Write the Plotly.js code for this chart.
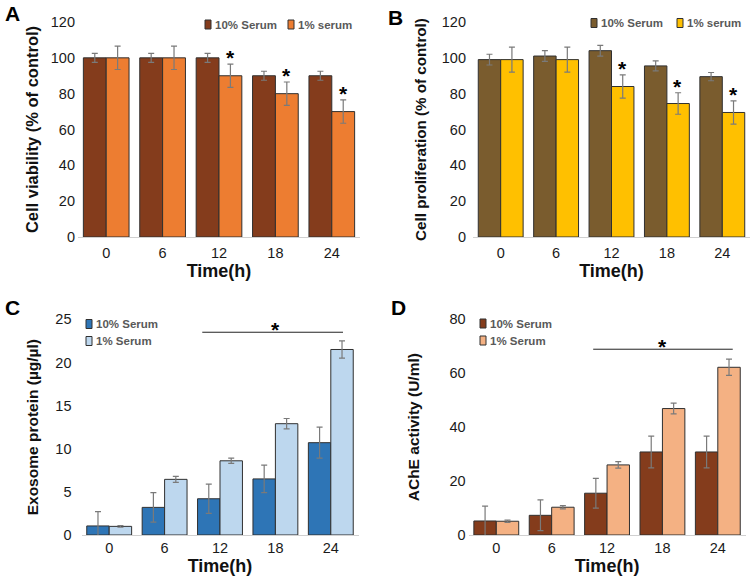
<!DOCTYPE html>
<html><head><meta charset="utf-8">
<script src="https://cdn.plot.ly/plotly-3.0.1.min.js"></script>
<style>html,body{margin:0;padding:0;background:#fff}#chart{width:750px;height:578px}</style>
</head><body><div id="chart"></div>
<script>
// ---------- data ----------
const timeLabels = ['0', '6', '12', '18', '24'];

const namesAB = ['10% Serum', '1% serum'];
const namesCD = ['10% Serum', '1% Serum'];

const viability10 = [100, 100, 100, 90, 90];
const viability10Err = [2.5, 2.5, 2.5, 2.5, 2.5];
const viability1 = [100, 100, 90, 80, 70];
const viability1Err = [6.5, 6.5, 6.5, 6.5, 6.5];
const viabilitySig = [false, false, true, true, true];

const prolif10 = [99, 101, 104, 95.5, 89.5];
const prolif10Err = [3, 3, 3, 2.8, 2.3];
const prolif1 = [99, 99, 84, 74.5, 69.5];
const prolif1Err = [7, 7, 6.5, 6, 6.5];
const prolifSig = [false, false, true, true, true];

const exosome10 = [1.05, 3.2, 4.2, 6.5, 10.7];
const exosome10Err = [1.65, 1.7, 1.7, 1.6, 1.8];
const exosome1 = [1.0, 6.45, 8.6, 12.9, 21.5];
const exosome1Err = [0.1, 0.35, 0.3, 0.6, 1.0];

const ache10 = [5.2, 7.3, 15.5, 30.8, 30.8];
const ache10Err = [5.5, 5.7, 5.5, 5.9, 5.9];
const ache1 = [5.1, 10.3, 26, 46.9, 62.2];
const ache1Err = [0.4, 0.6, 1.2, 2, 3];

// ---------- styles ----------
const W = 750, H = 578;
const px = v => v / W;
const py = v => 1 - v / H;
const FONT = 'Liberation Sans, Arial, sans-serif';
const colA = ['#843C1C', '#ED7D31'];
const colB = ['#7A5C2E', '#FFC000'];
const colC = ['#2E75B6', '#BDD7EE'];
const colD = ['#843C1C', '#F4B183'];

function bar(x, y, err, name, color, xa, ya) {
  return {
    type: 'bar', x: x, y: y, name: name, xaxis: xa, yaxis: ya, showlegend: false,
    marker: {color: color, line: {color: '#303030', width: 1}},
    error_y: {type: 'data', array: err, visible: true, color: '#7a7a7a', thickness: 1.2, width: 3},
    hoverinfo: 'x+y+name'
  };
}

const data = [
  bar(timeLabels, viability10, viability10Err, namesAB[0], colA[0], 'x', 'y'),
  bar(timeLabels, viability1, viability1Err, namesAB[1], colA[1], 'x', 'y'),
  bar(timeLabels, prolif10, prolif10Err, namesAB[0], colB[0], 'x2', 'y2'),
  bar(timeLabels, prolif1, prolif1Err, namesAB[1], colB[1], 'x2', 'y2'),
  bar(timeLabels, exosome10, exosome10Err, namesCD[0], colC[0], 'x3', 'y3'),
  bar(timeLabels, exosome1, exosome1Err, namesCD[1], colC[1], 'x3', 'y3'),
  bar(timeLabels, ache10, ache10Err, namesCD[0], colD[0], 'x4', 'y4'),
  bar(timeLabels, ache1, ache1Err, namesCD[1], colD[1], 'x4', 'y4')
];

function xAxis(domain, anchor, tso, tstand) {
  return {
    domain: domain, anchor: anchor, type: 'category', categoryorder: 'array', categoryarray: timeLabels,
    showline: true, linecolor: '#d0d0d0', linewidth: 1, showgrid: false, zeroline: false, ticks: '',
    ticklabelstandoff: tso,
    tickfont: {family: FONT, size: 14.5, color: '#1a1a1a'},
    title: {text: 'Time(h)', font: {family: FONT, size: 18, color: '#111', weight: 700}, standoff: tstand}
  };
}
function yAxis(domain, anchor, range, dtick, title, tsize, tso, tstand) {
  return {
    domain: domain, anchor: anchor, range: range, dtick: dtick, tick0: 0,
    showline: false, showgrid: false, zeroline: false, ticks: '',
    ticklabelstandoff: tso,
    tickfont: {family: FONT, size: 14.5, color: '#1a1a1a'},
    title: {text: title, font: {family: FONT, size: tsize, color: '#111', weight: 700}, standoff: tstand}
  };
}

const annotations = [];
const shapes = [];

// panel letters
[['A', 3, 13], ['B', 386, 17], ['C', 3, 307], ['D', 389, 307]].forEach(p => {
  annotations.push({xref: 'paper', yref: 'paper', x: px(p[1]), y: py(p[2]), text: p[0], showarrow: false,
    xanchor: 'left', yanchor: 'middle', font: {family: FONT, size: 21, color: '#000', weight: 700}});
});

// significance stars on individual bars (A, B)
function stars(vals, errs, sig, xa, ya) {
  sig.forEach((s, i) => {
    if (!s) return;
    annotations.push({xref: xa, yref: ya, x: i + 0.2, y: vals[i] + errs[i], text: '*', showarrow: false,
      yanchor: 'bottom', yshift: -7, font: {family: FONT, size: 21, color: '#000', weight: 700}});
  });
}
stars(viability1, viability1Err, viabilitySig, 'x', 'y');
stars(prolif1, prolif1Err, prolifSig, 'x2', 'y2');

// bracket lines with star (C, D)
function bracket(xa, ya, x0, x1, level) {
  shapes.push({type: 'line', xref: xa, yref: ya, x0: x0, x1: x1, y0: level, y1: level,
    line: {color: '#222', width: 1}});
  annotations.push({xref: xa, yref: ya, x: 3, y: level, text: '*', showarrow: false,
    yanchor: 'bottom', yshift: -11, font: {family: FONT, size: 21, color: '#000', weight: 700}});
}
bracket('x3', 'y3', 1.68, 4.22, 23.5);
bracket('x4', 'y4', 1.75, 4.27, 68.9);

// legends (drawn as swatches + labels)
function legendItem(boxLeft, cy, color, label) {
  shapes.push({type: 'rect', xref: 'paper', yref: 'paper', x0: px(boxLeft), x1: px(boxLeft + 6),
    y0: py(cy + 4.5), y1: py(cy - 4.5), fillcolor: color, line: {color: '#303030', width: 1}});
  annotations.push({xref: 'paper', yref: 'paper', x: px(boxLeft + 8), y: py(cy), text: label, showarrow: false,
    xanchor: 'left', yanchor: 'middle', font: {family: FONT, size: 11.5, color: '#595959', weight: 700}});
}
legendItem(205, 24.5, colA[0], namesAB[0]);
legendItem(288, 24.5, colA[1], namesAB[1]);
legendItem(591, 23, colB[0], namesAB[0]);
legendItem(677, 23, colB[1], namesAB[1]);
legendItem(86, 324, colC[0], namesCD[0]);
legendItem(86, 341, colC[1], namesCD[1]);
legendItem(480, 323.5, colD[0], namesCD[0]);
legendItem(480, 340.5, colD[1], namesCD[1]);

const layout = {
  width: W, height: H, margin: {l: 0, r: 0, t: 0, b: 0},
  paper_bgcolor: '#fff', plot_bgcolor: '#fff',
  barmode: 'group', bargap: 0.19, bargroupgap: 0,
  font: {family: FONT, color: '#1a1a1a'},
  showlegend: false,
  xaxis: xAxis([px(78), px(360)], 'y', 3, 0),
  yaxis: yAxis([py(237), py(22)], 'x', [0, 120], 20, 'Cell viability (% of control)', 16.5, 2, 8),
  xaxis2: xAxis([px(473), 1], 'y2', 3, 0),
  yaxis2: yAxis([py(237), py(22)], 'x2', [0, 120], 20, 'Cell proliferation (% of control)', 15.2, 6, 11),
  xaxis3: xAxis([px(81.5), px(358.5)], 'y3', 0, 2),
  yaxis3: yAxis([py(535), py(319.3)], 'x3', [0, 25], 5, 'Exosome protein (µg/µl)', 15.5, 9, 12),
  xaxis4: xAxis([px(468.6), px(745.5)], 'y4', 0, 2),
  yaxis4: yAxis([py(535), py(319.3)], 'x4', [0, 80], 20, 'AChE activity (U/ml)', 15.5, 2, 26),
  annotations: annotations,
  shapes: shapes
};

Plotly.newPlot('chart', data, layout, {displayModeBar: false, staticPlot: true});
</script>
</body></html>
